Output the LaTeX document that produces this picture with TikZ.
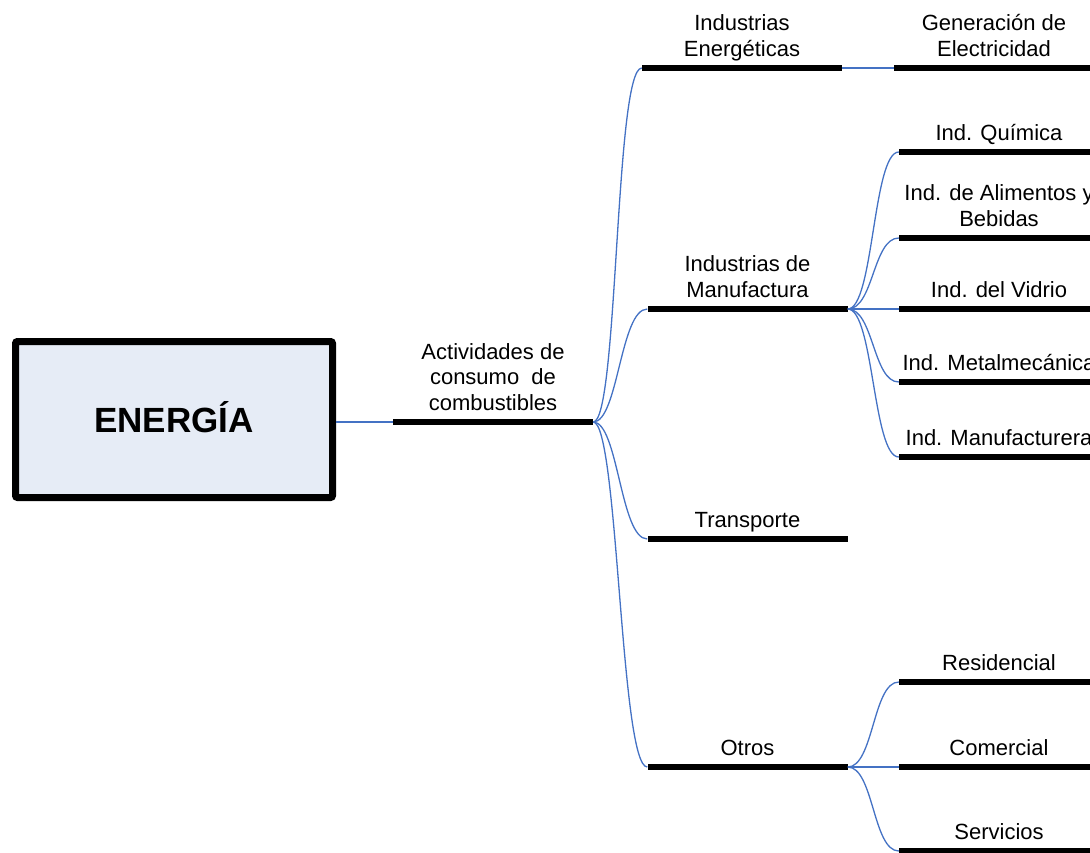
\documentclass[tikz,border=0pt]{standalone}
\usepackage{fontspec}
\setmainfont{Liberation Sans}
\definecolor{linkblue}{RGB}{68,114,196}
\definecolor{boxfill}{RGB}{230,236,246}
\begin{document}
\begin{tikzpicture}[x=1pt,y=-1pt,
  bar/.style={fill=black, inner sep=0pt, minimum width=200pt, minimum height=6.5pt},
  lbl/.style={anchor=south, inner sep=0pt, align=center, yshift=0.5pt,
    font=\fontsize{22}{25.5}\selectfont, execute at end node=\strut},
  link/.style={draw=linkblue, line width=1.3pt},
  root/.style={draw=black, line width=7pt, fill=boxfill, rounded corners=2pt,
    minimum width=317pt, minimum height=156pt, inner sep=0pt,
    text height=25pt, text depth=0pt,
    font=\bfseries\fontsize{35}{41}\selectfont},
]
\useasboundingbox (0,0) rectangle (1090,852);

% root box
\node[root] (en) at (174,419.5) {ENERGÍA};

% horizontal bars of the tree
\node[bar] (act) at (493,422) {};
\node[bar] (ene) at (742,68) {};
\node[bar] (gen) at (994,68) {};
\node[bar] (man) at (747.5,309) {};
\node[bar] (tra) at (747.5,539) {};
\node[bar] (otr) at (747.5,767) {};
\node[bar] (qui) at (999,152) {};
\node[bar] (ali) at (999,238) {};
\node[bar] (vid) at (999,309) {};
\node[bar] (met) at (999,382) {};
\node[bar] (mfr) at (999,457) {};
\node[bar] (res) at (999,682) {};
\node[bar] (com) at (999,767) {};
\node[bar] (ser) at (999,851) {};

% labels above the bars
\node[lbl] (actL) at (act.north) {Actividades de\\consumo~~de\\combustibles};
\node[lbl] (eneL) at (ene.north) {Industrias\\Energéticas};
\node[lbl] (genL) at (gen.north) {Generación de\\Electricidad};
\node[lbl] (manL) at (man.north) {Industrias de\\Manufactura};
\node[lbl] (traL) at (tra.north) {Transporte};
\node[lbl] (otrL) at (otr.north) {Otros};
\node[lbl] (quiL) at (qui.north) {Ind. Química};
\node[lbl] (aliL) at (ali.north) {Ind. de Alimentos y\\Bebidas};
\node[lbl] (vidL) at (vid.north) {Ind. del Vidrio};
\node[lbl] (metL) at (met.north) {Ind. Metalmecánica};
\node[lbl] (mfrL) at (mfr.north) {Ind. Manufacturera};
\node[lbl] (resL) at (res.north) {Residencial};
\node[lbl] (comL) at (com.north) {Comercial};
\node[lbl] (serL) at (ser.north) {Servicios};

% connectors
\draw[link] (act.west -| en.east) -- (act.west);
\draw[link] (ene.east) -- (gen.west);
\foreach \t in {ene,man,tra,otr}
  \draw[link] (act.east) .. controls +(25,0) and +(-27,0) .. (\t.west);
\foreach \t in {qui,ali,vid,met,mfr}
  \draw[link] (man.east) .. controls +(26,0) and +(-26,0) .. (\t.west);
\foreach \t in {res,com,ser}
  \draw[link] (otr.east) .. controls +(26,0) and +(-26,0) .. (\t.west);
\end{tikzpicture}
\end{document}
